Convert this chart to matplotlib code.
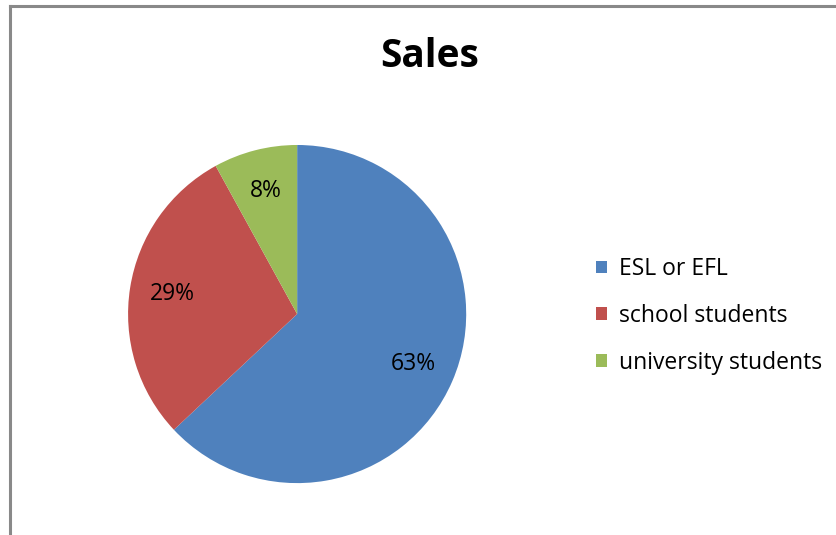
import matplotlib.pyplot as plt
from matplotlib.lines import Line2D
from matplotlib.patches import Patch

labels = ["ESL or EFL", "school students", "university students"]
values = [63, 29, 8]
colors = ["#4F81BD", "#C0504D", "#9BBB59"]

plt.rcParams['font.family'] = ['Open Sans', 'DejaVu Sans']

fig = plt.figure(figsize=(8.37, 5.35), dpi=100)

# chart area border (only left and top visible in the crop)
fig.add_artist(Line2D([10.5 / 837, 10.5 / 837], [0, 1 - 5.5 / 535], color="#898989", lw=2.2,
                      transform=fig.transFigure))
fig.add_artist(Line2D([10.5 / 837, 1], [1 - 5.5 / 535, 1 - 5.5 / 535], color="#898989", lw=2.2,
                      transform=fig.transFigure))

ax = fig.add_axes([0.153, 0.097, 0.404, 0.632])
wedges, texts, autotexts = ax.pie(values, colors=colors, startangle=90, counterclock=False,
                                  autopct='%1.0f%%', pctdistance=0.75, radius=1,
                                  textprops={'fontsize': 16.5, 'color': 'black'})
ax.set_xlim(-1, 1)
ax.set_ylim(-1, 1)
ax.set_aspect('equal')

fig.text(430 / 837, 1 - 57 / 535, "Sales", ha='center', va='center', fontsize=28, fontweight='bold')

handles = [Patch(facecolor=c, edgecolor='none') for c in colors]
fig.legend(handles, labels, loc='center left', bbox_to_anchor=(587 / 837, 1 - 316 / 535),
           frameon=False, fontsize=16.5, handlelength=0.48, handleheight=0.48,
           handletextpad=0.5, labelspacing=1.0, borderaxespad=0)

fig.savefig("out.png", dpi=100)
